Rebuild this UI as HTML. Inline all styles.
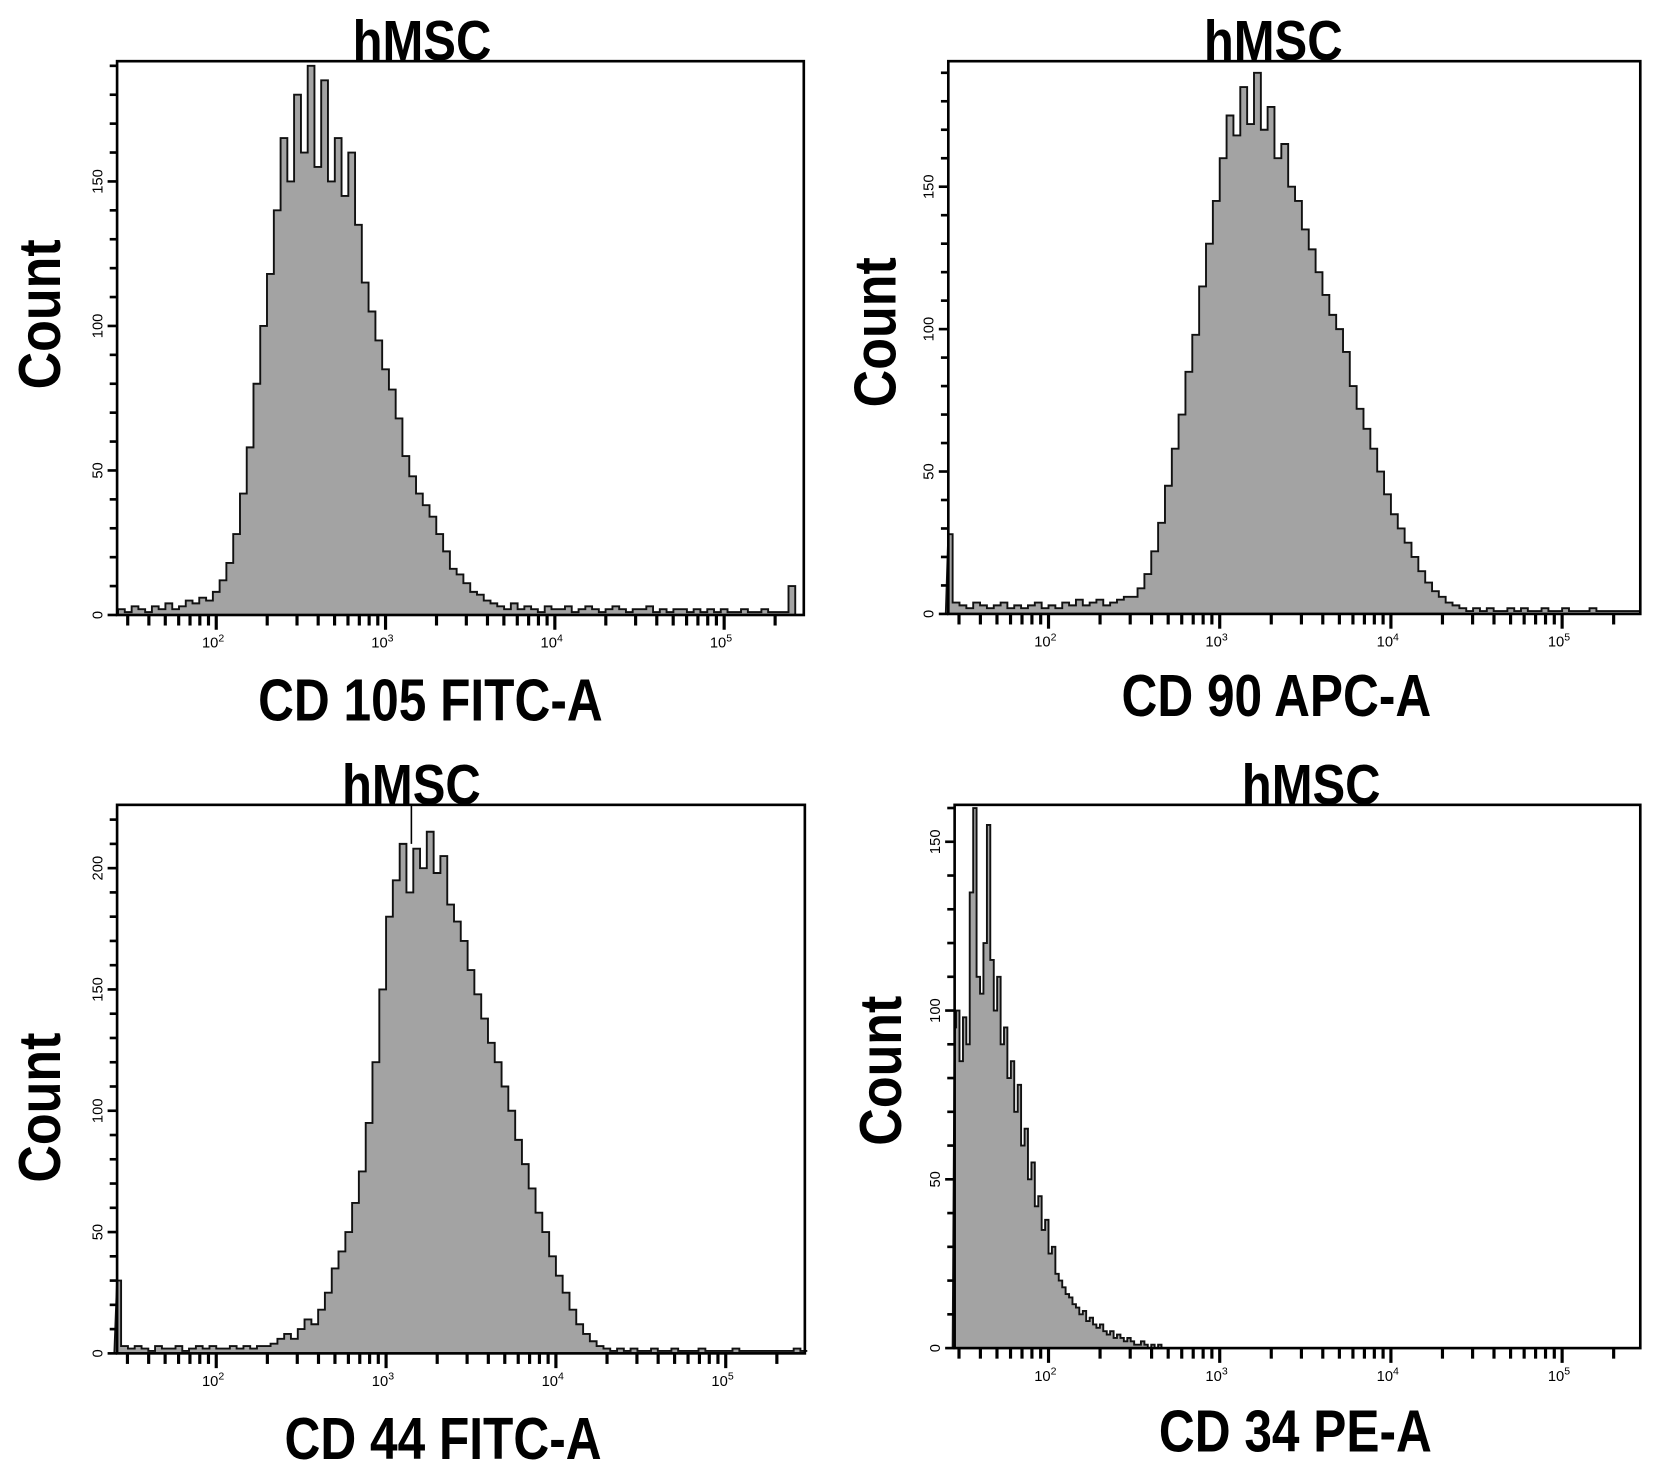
<!DOCTYPE html>
<html><head><meta charset="utf-8"><style>
html,body{margin:0;padding:0;background:#fff;}
svg{display:block;}
.t{font-family:"Liberation Sans",sans-serif;font-weight:bold;}
</style></head><body>
<svg id="fig" width="1654" height="1475" viewBox="0 0 1568 1398.3" xmlns="http://www.w3.org/2000/svg"></svg>
<script>
// ---------- data (bin start log10, bin step log10, counts) ----------
const p1Start = 1.42, p1Step = 0.04;
const p1Counts = [2,1,3,2,1,3,2,4,2,3,5,4,6,5,8,12,18,28,42,58,80,100,118,140,165,150,180,160,190,155,185,150,165,145,160,135,115,105,95,85,78,68,55,48,42,38,34,28,22,16,14,11,8,7,5,4,
3,2,4,2,3,2,1,3,2,2,3,1,2,3,2,1,2,3,2,1,2,2,3,1,2,1,2,2,1,2,1,2,1,2,1,1,2,1,1,2,1,1,1,10];
const p2Start = 1.40, p2Step = 0.04;
const p2Counts = [28,4,3,2,4,3,2,3,4,2,3,2,3,4,2,3,2,4,3,5,3,4,5,3,4,5,6,6,9,14,22,32,45,58,70,85,98,115,130,145,160,175,168,185,172,190,170,178,160,165,150,145,135,128,120,112,105,100,92,80,72,65,58,50,42,35,30,25,20,15,11,8,6,4,3,
2,1,2,1,2,1,1,2,1,2,1,1,2,1,1,2,1,1,1,2,1,1,1,1,1,1,1];
const p3Start = 1.40, p3Step = 0.04;
const p3Counts = [30,3,2,3,2,1,3,2,2,3,1,2,3,2,3,2,2,3,2,3,2,3,3,4,6,8,6,10,14,12,18,25,35,42,50,62,75,95,120,150,180,195,210,190,208,200,215,198,205,185,178,170,158,148,138,128,120,110,100,88,78,68,58,50,40,32,25,18,12,8,5,3,
2,1,2,1,2,1,1,2,1,1,2,1,1,1,2,1,1,1,1,2,1,1,1,1,1,1,1,1,2,1,1];
const p4Start = 1.44, p4Step = 0.02;
const p4Counts = [95,100,85,98,90,135,160,110,105,120,155,115,100,110,90,95,80,85,70,78,60,65,50,55,42,45,35,38,28,30,22,20,18,16,15,13,12,10,11,8,9,7,6,7,5,4,5,3,4,3,2,3,2,1,1,2,1,0,1,0,1,0,0,0];
const yTicks1 = [0,50,100,150];
const yTicks3 = [0,50,100,150,200];
const xDecades = [2,3,4,5];

const panels = [
 {id:'cd105',counts:p1Counts,start:p1Start,step:p1Step,L:111,T:58,R:762,B:583,dec2:205,dec:160.5,perUnit:137/50,yt:yTicks1,
  title:'hMSC',tx:400,ty:57,xl:'CD 105 FITC-A',xlx:408,xly:683,cx:38,cy:298},
 {id:'cd90',counts:p2Counts,start:p2Start,step:p2Step,L:899,T:58,R:1555,B:582,dec2:994,dec:162.3,perUnit:135/50,yt:yTicks1,
  title:'hMSC',tx:1207,ty:57,xl:'CD 90 APC-A',xlx:1210,xly:679,cx:830,cy:315},
 {id:'cd44',counts:p3Counts,start:p3Start,step:p3Step,L:111,T:763,R:763,B:1283,dec2:205,dec:161,perUnit:115/50,yt:yTicks3,
  title:'hMSC',tx:390,ty:762,xl:'CD 44 FITC-A',xlx:420,xly:1383,cx:38,cy:1050},
 {id:'cd34',counts:p4Counts,start:p4Start,step:p4Step,L:905,T:763,R:1555,B:1278,dec2:994,dec:162.3,perUnit:160/50,yt:yTicks1,
  title:'hMSC',tx:1243,ty:762,xl:'CD 34 PE-A',xlx:1228,xly:1376,cx:835,cy:1015}
];

const NS='http://www.w3.org/2000/svg';
const svg=document.getElementById('fig');
function mk(tag,attrs,parent){const e=document.createElementNS(NS,tag);for(const k in attrs)e.setAttribute(k,attrs[k]);(parent||svg).appendChild(e);return e;}

panels.forEach(p=>{
  const g=mk('g',{});
  
  
  const xs=l=>p.dec2+(l-2)*p.dec;
  const ys=c=>p.B-c*p.perUnit;
  let d='M'+xs(p.start)+','+p.B;
  p.counts.forEach((c,i)=>{
    const x0=Math.max(p.L,xs(p.start+i*p.step)), x1=Math.min(p.R,xs(p.start+(i+1)*p.step));
    const y=Math.max(p.T,ys(c));
    d+=' L'+x0.toFixed(1)+','+y.toFixed(1)+' L'+x1.toFixed(1)+','+y.toFixed(1);
  });
  d+=' L'+Math.min(p.R,xs(p.start+p.counts.length*p.step)).toFixed(1)+','+p.B+' Z';
  const h=mk('path',{d:d,fill:'#a3a3a3',stroke:'#111','stroke-width':1.8,'stroke-linejoin':'miter'},g);
  
  
  const f=mk('rect',{x:p.L,y:p.T,width:p.R-p.L,height:p.B-p.T,fill:'none',stroke:'#000','stroke-width':2.5},g);
  
  
  const maxC=(p.B-p.T)/p.perUnit;
  for(let c=0;c<=maxC;c+=10){
    const y=ys(c);
    mk('line',{x1:p.L-(c%50===0?9:7),x2:p.L,y1:y,y2:y,stroke:'#000','stroke-width':2.5},g);
  }
  p.yt.forEach(v=>{
    const t=mk('text',{x:0,y:0,transform:'translate('+(p.L-14)+','+ys(v)+') rotate(-90)','text-anchor':'middle','font-size':14,'font-family':'Liberation Sans, sans-serif',fill:'#000'},g);
    t.textContent=v;
    
    
  });
  for(let e=1;e<=5;e++){
    for(let k=1;k<=9;k++){
      const l=e+Math.log10(k);const x=xs(l);
      if(x<p.L+3||x>p.R-2)continue;
      mk('line',{x1:x,x2:x,y1:p.B,y2:p.B+(k===1?14:10),stroke:'#000','stroke-width':3},g);
    }
  }
  xDecades.forEach(e=>{
    const t=mk('text',{x:xs(e)-3,y:p.B+31,'text-anchor':'middle','font-size':14,'font-family':'Liberation Sans, sans-serif',fill:'#000'},g);
    t.textContent='10';
    const s=mk('tspan',{dy:-6,'font-size':10},t);s.textContent=e;
    
    
  });
  const tt=mk('text',{x:0,y:0,transform:'translate('+p.tx+','+p.ty+') scale(0.86,1)','text-anchor':'middle','font-size':54,class:'t',fill:'#000'},g);
  tt.textContent=p.title;
  
  
  const xl=mk('text',{x:0,y:0,transform:'translate('+p.xlx+','+p.xly+') scale(0.84,1)','text-anchor':'middle','font-size':56,class:'t',fill:'#000'},g);
  xl.textContent=p.xl;
  
  
  const yl=mk('text',{x:0,y:0,transform:'translate('+(p.cx+19)+','+p.cy+') rotate(-90) scale(0.88,1)','text-anchor':'middle','font-size':56,class:'t',fill:'#000'},g);
  yl.textContent='Count';
  
  
});
const ml=mk('line',{x1:390,x2:390,y1:763,y2:800,stroke:'#000','stroke-width':1.5});


</script>
</body></html>
